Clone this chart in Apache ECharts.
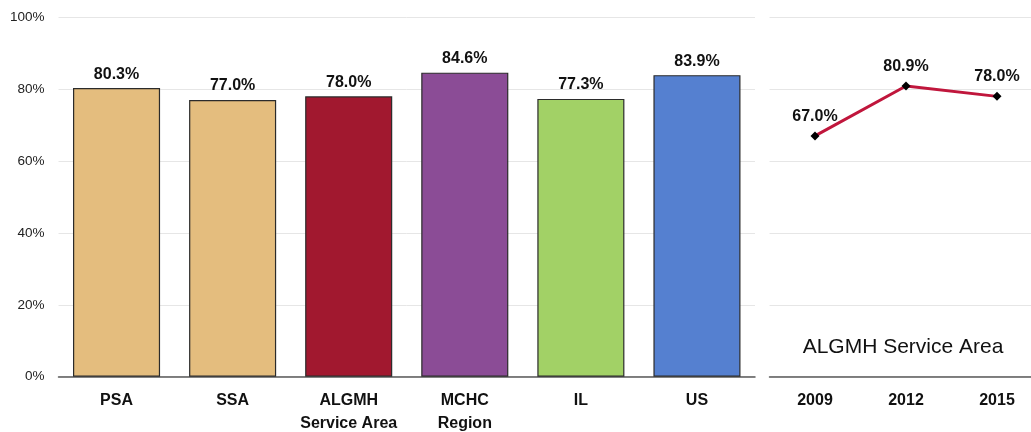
<!DOCTYPE html>
<html><head><meta charset="utf-8">
<script src="https://cdn.jsdelivr.net/npm/echarts@6/dist/echarts.min.js"></script>
<style>html,body{margin:0;padding:0;background:#fff}#c{width:1031px;height:432px}</style>
</head><body><div id="c"></div>
<script>
var categories = ['PSA', 'SSA', 'ALGMH\nService Area', 'MCHC\nRegion', 'IL', 'US'];
var barValues = [80.3, 77.0, 78.0, 84.6, 77.3, 83.9];
var barColors = ['#E4BD7E', '#E4BD7E', '#A1182F', '#8B4C96', '#A2D166', '#5580D0'];
var years = ['2009', '2012', '2015'];
var lineValues = [67.0, 80.9, 78.0];
var yTicks = [0, 20, 40, 60, 80, 100];
var trendTitle = 'ALGMH Service Area';

var FONT = '"Liberation Sans", Arial, sans-serif';
var chart = echarts.init(document.getElementById('c'));
chart.setOption({
  animation: false,
  grid: [
    {left: 58.5, width: 696.5, top: 17.3, height: 359.4, outerBoundsMode: 'none', containLabel: false},
    {left: 769.5, width: 273, top: 17.3, height: 359.4, outerBoundsMode: 'none', containLabel: false}
  ],
  title: {
    text: trendTitle, left: 898, top: 332, textAlign: 'center',
    textStyle: {fontFamily: FONT, fontSize: 21, fontWeight: 'normal', color: '#111'}
  },
  xAxis: [
    {type: 'category', gridIndex: 0, data: categories,
     axisLine: {lineStyle: {color: '#595959', width: 1.5}}, axisTick: {show: false},
     axisLabel: {fontFamily: FONT, fontSize: 16, fontWeight: 'bold', color: '#111', margin: 12, lineHeight: 23, interval: 0}},
    {type: 'category', gridIndex: 1, data: years,
     axisLine: {lineStyle: {color: '#595959', width: 1.5}}, axisTick: {show: false},
     axisLabel: {fontFamily: FONT, fontSize: 16, fontWeight: 'bold', color: '#111', margin: 12, lineHeight: 23}}
  ],
  yAxis: [
    {type: 'value', gridIndex: 0, min: 0, max: 100, interval: 20,
     axisLine: {show: false}, axisTick: {show: false},
     splitLine: {lineStyle: {color: '#E6E6E6', width: 1}},
     axisLabel: {fontFamily: FONT, fontSize: 13.5, color: '#222', margin: 14,
       formatter: function (v) { return yTicks.indexOf(v) >= 0 ? v + '%' : ''; }}},
    {type: 'value', gridIndex: 1, min: 0, max: 100, interval: 20,
     axisLine: {show: false}, axisTick: {show: false},
     splitLine: {lineStyle: {color: '#E6E6E6', width: 1}},
     axisLabel: {show: false}}
  ],
  series: [
    {type: 'bar', xAxisIndex: 0, yAxisIndex: 0, barCategoryGap: '25%',
     data: barValues.map(function (v, i) {
       return {value: v, itemStyle: {color: barColors[i], borderColor: '#2b2b2b', borderWidth: 1.2}};
     }),
     label: {show: true, position: 'top', distance: 6, fontFamily: FONT, fontSize: 16, fontWeight: 'bold', color: '#111',
       formatter: function (p) { return p.value.toFixed(1) + '%'; }}},
    {type: 'line', xAxisIndex: 1, yAxisIndex: 1, data: lineValues,
     lineStyle: {color: '#C0163C', width: 3}, symbol: 'diamond', symbolSize: 9,
     itemStyle: {color: '#000'},
     label: {show: true, position: 'top', distance: 7, fontFamily: FONT, fontSize: 16, fontWeight: 'bold', color: '#111',
       formatter: function (p) { return p.value.toFixed(1) + '%'; }}}
  ]
});
</script></body></html>
